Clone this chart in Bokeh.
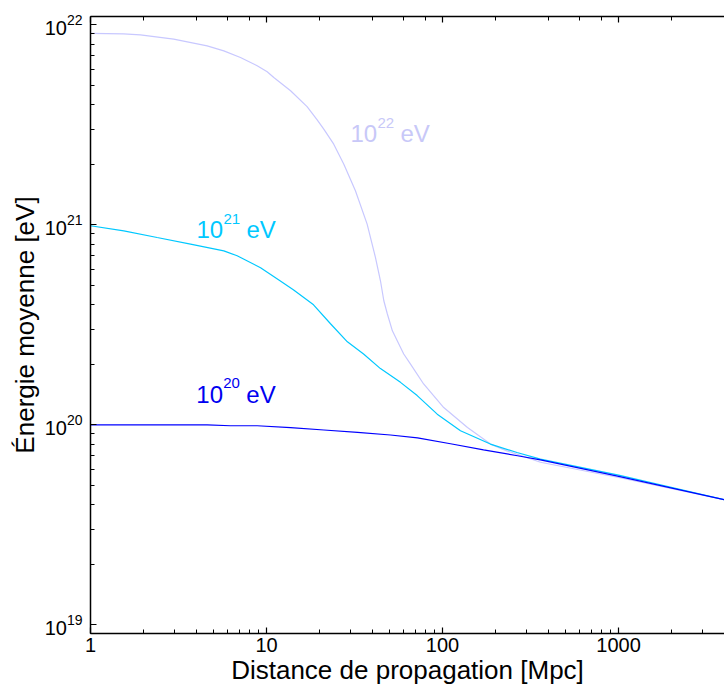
from bokeh.plotting import figure
from bokeh.models import LogAxis, LogTicker, CustomJSTickFormatter
from bokeh.core.properties import value
from bokeh.embed import file_html
from bokeh.resources import INLINE

# ---- data (distance in Mpc, mean energy in eV) ----
dist_22 = [1, 1.54, 1.92, 2.97, 4.60, 5.72, 7.11, 8.85, 10.09, 11.0, 13.7, 17.0, 19.4,
           21.2, 24.1, 27.5, 32.0, 37.3, 41.6, 44.4, 46.4, 48.6, 51.9, 55.3, 60.2,
           65.8, 78.1, 101.6, 138.6, 187.4, 232, 360, 1000, 4000]
energy_22 = [9.05e21, 9.0e21, 8.91e21, 8.48e21, 7.85e21, 7.41e21, 6.86e21, 6.24e21,
             5.82e21, 5.45e21, 4.68e21, 3.9e21, 3.35e21, 3.0e21, 2.53e21, 2.01e21,
             1.48e21, 1.008e21, 6.86e20, 5.25e20, 4.17e20, 3.58e20, 2.95e20, 2.63e20,
             2.26e20, 2.01e20, 1.60e20, 1.22e20, 9.69e19, 8.01e19, 7.41e19, 6.5e19,
             5.45e19, 4.22e19]

dist_21 = [1, 1.546, 2.39, 3.70, 5.72, 6.81, 9.25, 11.7, 14.2, 18.5, 23.1, 28.8, 35.6,
           44.4, 57.7, 71.8, 93.3, 126.5, 187, 265, 360, 1000, 4000]
energy_21 = [9.89e20, 9.33e20, 8.64e20, 8.01e20, 7.41e20, 7.0e20, 6.10e20, 5.31e20,
             4.73e20, 3.98e20, 3.20e20, 2.60e20, 2.26e20, 1.91e20, 1.63e20, 1.40e20,
             1.13e20, 9.33e19, 8.01e19, 7.27e19, 6.74e19, 5.6e19, 4.22e19]

dist_20 = [1, 4.6, 6.24, 8.85, 13.7, 21.2, 32.9, 50.6, 72.1, 111, 171, 267, 360, 987, 4000]
energy_20 = [1e20, 1e20, 9.89e19, 9.89e19, 9.69e19, 9.42e19, 9.16e19, 8.89e19, 8.61e19,
             8.04e19, 7.5e19, 7.0e19, 6.68e19, 5.54e19, 4.22e19]

series_names = ["22", "21", "20"]
series_colors = ["#c8c8ff", "#00c8ff", "#0000ff"]
label_colors = ["#c8c8f8", "#00c8ff", "#0000f0"]
# label anchors (data coords of the start of "10")
label_x = [30.0, 4.0, 3.99]
label_y = [2.86e21, 9.44e20, 1.425e20]

x_title = "Distance de propagation [Mpc]"
y_title = "Énergie moyenne [eV]"
x_lim = (1, 4000)
y_lim = (10 ** 18.9565, 10 ** 22.0415)

FONT = "Liberation Sans"

p = figure(width=724, height=689, x_axis_type="log", y_axis_type="log",
           x_range=x_lim, y_range=y_lim, output_backend="svg", toolbar_location=None,
           min_border_left=90, min_border_right=0, min_border_top=16, min_border_bottom=56)
p.outline_line_color = None
p.grid.visible = False
p.background_fill_color = "white"
p.border_fill_color = "white"

xt = p.xaxis[0]
yt = p.yaxis[0]
xt.formatter = CustomJSTickFormatter(code="return tick.toFixed(0)")
top = LogAxis(ticker=LogTicker(), formatter=CustomJSTickFormatter(code="return ''"))
top.major_label_text_font_size = "0px"
top.major_label_standoff = 0
p.add_layout(top, "above")

for ax in [xt, yt, top]:
    ax.axis_line_width = 1.5
    ax.axis_line_color = "black"
    ax.major_tick_in = 6
    ax.major_tick_out = 0
    ax.minor_tick_in = 4
    ax.minor_tick_out = 0
    ax.major_tick_line_width = 1.2
    ax.minor_tick_line_width = 1
    ax.major_label_text_font = FONT
    ax.major_label_text_color = "black"
    ax.axis_label_text_font = FONT
    ax.axis_label_text_font_style = "normal"
    ax.axis_label_text_color = "black"
    ax.axis_label_text_font_size = "26px"

xt.major_label_text_font_size = "20px"
xt.major_label_standoff = 4
xt.axis_label = x_title
xt.axis_label_standoff = 0
yt.major_label_text_font_size = "20px"
yt.major_label_standoff = 8
yt.axis_label = y_title
yt.axis_label_standoff = 2

dists = [dist_22, dist_21, dist_20]
energies = [energy_22, energy_21, energy_20]
for d, e, c in zip(dists, energies, series_colors):
    p.line(d, e, line_color=c, line_width=1.2)

for name, c, lx, ly in zip(series_names, label_colors, label_x, label_y):
    p.text(x=[lx], y=[ly], text=["10"], text_font=value(FONT), text_font_size="24px",
           text_color=c, text_baseline="alphabetic", text_align="left")
    p.text(x=[lx], y=[ly], text=[name], text_font=value(FONT), text_font_size="15px",
           text_color=c, text_baseline="alphabetic", text_align="left",
           x_offset=27, y_offset=-11)
    p.text(x=[lx], y=[ly], text=["eV"], text_font=value(FONT), text_font_size="24px",
           text_color=c, text_baseline="alphabetic", text_align="left", x_offset=50)

open("out.html", "w").write(file_html(p, INLINE))
